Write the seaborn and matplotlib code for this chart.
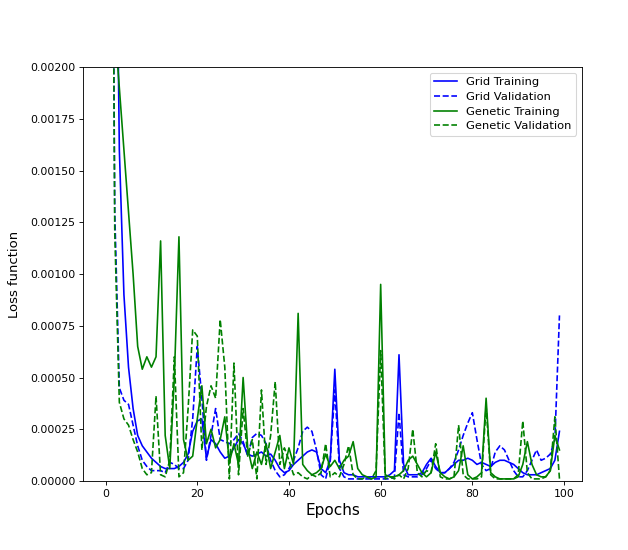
import matplotlib
matplotlib.use("Agg")
import matplotlib.pyplot as plt
import numpy as np
import seaborn as sns

# Loss values per epoch (0..99)
epochs = np.arange(100)

grid_training = [
    0.03, 0.01, 0.0035, 0.0016, 0.0009, 0.00055, 0.00035, 0.00022, 0.00017, 0.00014,
    0.00011, 0.00009, 0.00007, 0.00006, 0.00006, 0.00006, 0.00007, 0.00009, 0.00013, 0.00024,
    0.00029, 0.00030, 0.00011, 0.00020, 0.00018, 0.00014, 0.00011, 0.00012, 0.00016, 0.00020,
    0.00018, 0.00013, 0.00012, 0.00013, 0.00014, 0.00012, 0.00013, 0.00010, 0.00006, 0.00004,
    0.00005, 0.00008, 0.00010, 0.00012, 0.00014, 0.00015, 0.00014, 0.00006, 0.00004, 0.00010,
    0.00054, 0.00010, 0.00004, 0.00003, 0.00003, 0.00002, 0.00002, 0.00002, 0.00002, 0.00002,
    0.00002, 0.00002, 0.00003, 0.00005, 0.00061, 0.00008, 0.00003, 0.00003, 0.00003, 0.00004,
    0.00008, 0.00011, 0.00007, 0.00004, 0.00004, 0.00006, 0.00008, 0.00010, 0.00010, 0.00011,
    0.00010, 0.00008, 0.00009, 0.00008, 0.00007, 0.00009, 0.00010, 0.00010, 0.00009, 0.00008,
    0.00006, 0.00004, 0.00003, 0.00003, 0.00003, 0.00004, 0.00005, 0.00006, 0.00010, 0.00024,
]

grid_validation = [
    0.04, 0.005, 0.0013, 0.00045, 0.00039, 0.00037, 0.00027, 0.00017, 0.00010, 0.00007,
    0.00005, 0.00005, 0.00005, 0.00004, 0.00009, 0.00008, 0.00006, 0.00006, 0.00010, 0.00030,
    0.00065, 0.00040, 0.00010, 0.00022, 0.00035, 0.00020, 0.00019, 0.00018, 0.00020, 0.00023,
    0.00019, 0.00012, 0.00021, 0.00023, 0.00022, 0.00018, 0.00010, 0.00005, 0.00002, 0.00003,
    0.00006, 0.00010, 0.00016, 0.00024, 0.00026, 0.00024, 0.00015, 0.00003, 0.00001, 0.00010,
    0.00044, 0.00006, 0.00002, 0.00001, 0.00001, 0.00001, 0.00001, 0.00001, 0.00001, 0.00001,
    0.00001, 0.00001, 0.00001, 0.00002, 0.00033, 0.00003, 0.00002, 0.00002, 0.00002, 0.00003,
    0.00006, 0.00010, 0.00006, 0.00004, 0.00004, 0.00006, 0.00009, 0.00015, 0.00022, 0.00028,
    0.00033, 0.00020, 0.00008, 0.00005, 0.00006, 0.00014, 0.00017, 0.00015, 0.00010, 0.00005,
    0.00002, 0.00002, 0.00005, 0.00010, 0.00015, 0.00010, 0.00011, 0.00013, 0.00020, 0.00080,
]

genetic_training = [
    0.03, 0.008, 0.0022, 0.0019, 0.0016, 0.0013, 0.0010, 0.00065, 0.00054, 0.00060,
    0.00055, 0.00060, 0.00116, 0.00022, 0.00006, 0.00050, 0.00118, 0.00020, 0.00010, 0.00012,
    0.00030, 0.00046, 0.00018, 0.00025, 0.00016, 0.00020, 0.00031, 0.00009, 0.00018, 0.00008,
    0.00050, 0.00016, 0.00006, 0.00014, 0.00008, 0.00018, 0.00006, 0.00014, 0.00022, 0.00006,
    0.00016, 0.00008, 0.00081, 0.00008, 0.00005, 0.00003, 0.00004, 0.00006, 0.00013, 0.00007,
    0.00010, 0.00006, 0.00010, 0.00012, 0.00019, 0.00006, 0.00003, 0.00002, 0.00001, 0.00002,
    0.00095, 0.00003, 0.00002, 0.00002, 0.00003, 0.00005, 0.00010, 0.00012, 0.00008, 0.00004,
    0.00002, 0.00004, 0.00014, 0.00004, 0.00002, 0.00001, 0.00002, 0.00005, 0.00017, 0.00003,
    0.00001, 0.00002, 0.00004, 0.00040, 0.00004, 0.00002, 0.00001, 0.00001, 0.00001, 0.00001,
    0.00002, 0.00008, 0.00019, 0.00008, 0.00003, 0.00002, 0.00002, 0.00005, 0.00022, 0.00015,
]

genetic_validation = [
    0.04, 0.005, 0.0012, 0.00038, 0.00030, 0.00027, 0.00020, 0.00014, 0.00006, 0.00003,
    0.00004, 0.00041, 0.00003, 0.00002, 0.00010, 0.00060, 0.00002, 0.00004, 0.00035, 0.00073,
    0.00070, 0.00015, 0.00036, 0.00046, 0.00040, 0.00078, 0.00055, 0.00001, 0.00057, 0.00003,
    0.00035, 0.00012, 0.00020, 0.00001, 0.00044, 0.00008, 0.00022, 0.00048, 0.00008, 0.00016,
    0.00010, 0.00003, 0.00004, 0.00002, 0.00001, 0.00003, 0.00002, 0.00004, 0.00018, 0.00002,
    0.00004, 0.00002, 0.00008, 0.00017, 0.00003, 0.00001, 0.00001, 0.00002, 0.00001, 0.00005,
    0.00063, 0.00001, 0.00002, 0.00001, 0.00003, 0.00001, 0.00006, 0.00025, 0.00004, 0.00002,
    0.00005, 0.00004, 0.00018, 0.00002, 0.00001, 0.00001, 0.00002, 0.00027, 0.00003, 0.00001,
    0.00001, 0.00001, 0.00002, 0.00036, 0.00003, 0.00001, 0.00001, 0.00001, 0.00001, 0.00001,
    0.00003, 0.00029, 0.00004, 0.00001, 0.00001, 0.00001, 0.00002, 0.00005, 0.00031, 0.00001,
]


def create_plot():
    fig = plt.figure(figsize=(628 / 78.5, 550 / 78.5), dpi=78.5)
    ax = fig.add_subplot(111)
    fig.subplots_adjust(left=0.132, right=0.927, bottom=0.1255, top=0.878)

    sns.lineplot(x=epochs, y=grid_training, color="blue", label="Grid Training", ax=ax)
    sns.lineplot(x=epochs, y=grid_validation, color="blue", linestyle="--",
                 label="Grid Validation", ax=ax)
    sns.lineplot(x=epochs, y=genetic_training, color="green", label="Genetic Training", ax=ax)
    sns.lineplot(x=epochs, y=genetic_validation, color="green", linestyle="--",
                 label="Genetic Validation", ax=ax)

    ax.set_ylim(0, 0.002)
    ax.set_xlabel("Epochs", fontsize=14)
    ax.set_ylabel("Loss function", fontsize=12, labelpad=8)
    ax.legend(loc="upper right", fontsize=10.5, labelspacing=0.4)

    fig.savefig("out.png", dpi=78.5)
    plt.close(fig)


if __name__ == "__main__":
    create_plot()
